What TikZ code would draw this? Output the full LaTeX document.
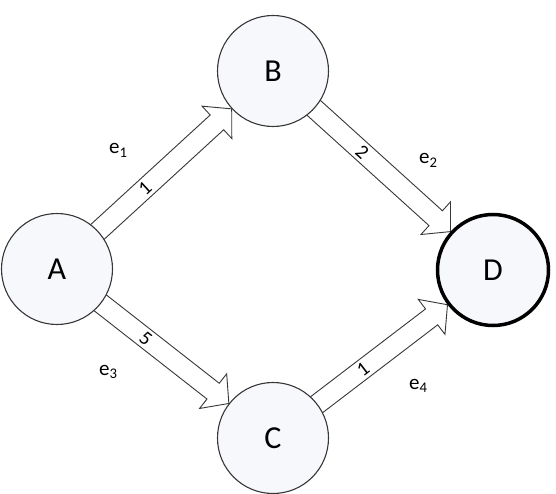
\documentclass[tikz,border=0pt]{standalone}
\usepackage{fontspec}
\setmainfont{Carlito}
\usetikzlibrary{calc,backgrounds}
\definecolor{nodefill}{RGB}{247,248,252}
\definecolor{edgegray}{RGB}{55,55,55}
\newcommand\blockarr[4]{% from, to, weight label, label name
  \path (#1) -- (#2) coordinate[pos=1] (#1#2t)
     node[wlab,pos=0.35,sloped] (#4) {#3};
  \coordinate (#1#2h) at ($(#1#2t)!20pt!(#1.center)$);
  \begin{scope}[on background layer]
    \draw[arr] ($(#1.center)!10pt!90:(#1#2t)$)
      -- ($(#1#2h)!10pt!90:(#1#2t)$)
      -- ($(#1#2h)!22pt!90:(#1#2t)$)
      -- (#1#2t)
      -- ($(#1#2h)!22pt!-90:(#1#2t)$)
      -- ($(#1#2h)!10pt!-90:(#1#2t)$)
      -- ($(#1.center)!10pt!-90:(#1#2t)$) -- cycle;
  \end{scope}
}
\begin{document}
\begin{tikzpicture}[x=1pt,y=-1pt,
  vtx/.style={circle,draw=edgegray,line width=1.1pt,fill=nodefill,
    minimum size=111pt,inner sep=0pt,font=\fontsize{32}{36}\selectfont},
  sink/.style={vtx,draw=black,line width=3.5pt},
  arr/.style={draw=edgegray,line width=0.9pt,fill=white,line join=miter},
  wlab/.style={font=\fontsize{20}{21}\selectfont,inner sep=0pt},
  elab/.style={font=\fontsize{21}{22}\selectfont,inner sep=0pt,anchor=base west}]
\useasboundingbox (0,0) rectangle (556,494);
\node[vtx] (A) at (57,269) {A};
\node[vtx] (B) at (273,71) {B};
\node[vtx] (C) at (273,438) {C};
\node[sink] (D) at (493,270) {D};
\blockarr{A}{B}{1}{wAB}
\blockarr{B}{D}{2}{wBD}
\blockarr{A}{C}{5}{wAC}
\blockarr{C}{D}{1}{wCD}
\node[elab] (e1) at (109,154) {e\textsubscript{1}};
\node[elab] (e2) at (419,164) {e\textsubscript{2}};
\node[elab] (e3) at (99,375) {e\textsubscript{3}};
\node[elab] (e4) at (409,389) {e\textsubscript{4}};
\end{tikzpicture}
\end{document}
